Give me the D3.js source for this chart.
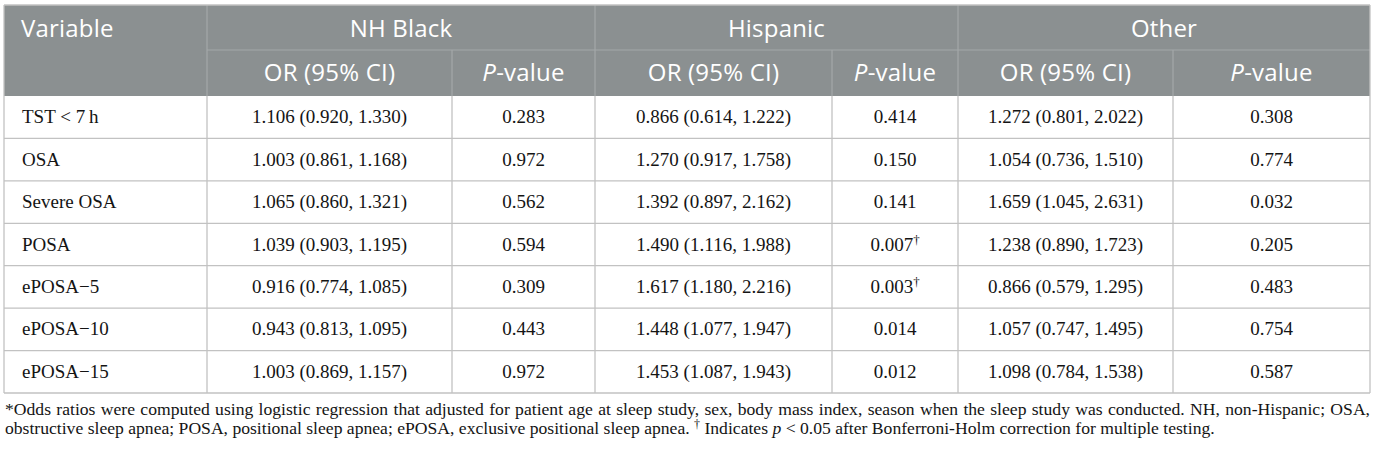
<!DOCTYPE html>
<html>
<head>
<meta charset="utf-8">
<script src="https://cdn.jsdelivr.net/npm/d3@7"></script>
<style>
  body { margin: 0; background: #fff; }
  svg { display: block; }
</style>
</head>
<body>
<div id="chart-area"></div>
<script>
// Data
// ****
const variables = ["TST < 7\u2009h", "OSA", "Severe OSA", "POSA", "ePOSA\u22125", "ePOSA\u221210", "ePOSA\u221215"]
const rowKeys = ["tst", "osa", "severe", "posa", "eposa5", "eposa10", "eposa15"]
const groups = ["NH Black", "Hispanic", "Other"]
const subHeaders = ["OR (95% CI)", "P-value"]
const nhBlackOR = ["1.106 (0.920, 1.330)", "1.003 (0.861, 1.168)", "1.065 (0.860, 1.321)", "1.039 (0.903, 1.195)", "0.916 (0.774, 1.085)", "0.943 (0.813, 1.095)", "1.003 (0.869, 1.157)"]
const nhBlackP = ["0.283", "0.972", "0.562", "0.594", "0.309", "0.443", "0.972"]
const hispanicOR = ["0.866 (0.614, 1.222)", "1.270 (0.917, 1.758)", "1.392 (0.897, 2.162)", "1.490 (1.116, 1.988)", "1.617 (1.180, 2.216)", "1.448 (1.077, 1.947)", "1.453 (1.087, 1.943)"]
const hispanicP = ["0.414", "0.150", "0.141", "0.007\u2020", "0.003\u2020", "0.014", "0.012"]
const otherOR = ["1.272 (0.801, 2.022)", "1.054 (0.736, 1.510)", "1.659 (1.045, 2.631)", "1.238 (0.890, 1.723)", "0.866 (0.579, 1.295)", "1.057 (0.747, 1.495)", "1.098 (0.784, 1.538)"]
const otherP = ["0.308", "0.774", "0.032", "0.205", "0.483", "0.754", "0.587"]
const footnote1 = "*Odds ratios were computed using logistic regression that adjusted for patient age at sleep study, sex, body mass index, season when the sleep study was conducted. NH, non-Hispanic; OSA,"
const footnote2a = "obstructive sleep apnea; POSA, positional sleep apnea; ePOSA, exclusive positional sleep apnea. "
const footnote2b = "Indicates "
const footnote2c = " < 0.05 after Bonferroni-Holm correction for multiple testing."

// Config
// ******
const width = 1376, height = 452
const colEdges = [4, 207, 452, 595, 832, 958, 1173, 1370]
const headTop = 5, headMid = 50, headBottom = 96, tableBottom = 393
const headFill = "#8b9091", headLine = "#a4a8a9", gridLine = "#c2c2c2"
const sans = "'Open Sans', sans-serif", serif = "'Liberation Serif', 'Times New Roman', serif"
const foot2End = 1216

const columns = [nhBlackOR, nhBlackP, hispanicOR, hispanicP, otherOR, otherP]

const svg = d3.select("#chart-area")
  .append("svg")
    .attr("width", width)
    .attr("height", height)

const y = d3.scaleBand().domain(rowKeys).range([headBottom, tableBottom])
const col = d3.scaleOrdinal().domain(d3.range(7)).range(colEdges.slice(0, 7))
const colW = i => colEdges[i + 1] - colEdges[i]

// Header
// ******
svg.append("rect")
  .attr("x", colEdges[0]).attr("y", headTop)
  .attr("width", colEdges[7] - colEdges[0]).attr("height", headBottom - headTop)
  .attr("fill", headFill)

const head = svg.append("g")
  .attr("font-family", sans)
  .attr("font-size", "24px")
  .attr("letter-spacing", "0.2px")
  .attr("fill", "#fff")

head.append("text")
  .attr("x", 21).attr("y", 37)
  .text("Variable")

groups.forEach((gName, gi) => {
  const x0 = colEdges[1 + gi * 2], x1 = colEdges[3 + gi * 2]
  head.append("text")
    .attr("x", (x0 + x1) / 2).attr("y", 37)
    .attr("text-anchor", "middle")
    .text(gName)
  subHeaders.forEach((s, si) => {
    const ci = 1 + gi * 2 + si
    const t = head.append("text")
      .attr("x", col(ci) + colW(ci) / 2).attr("y", 81)
      .attr("text-anchor", "middle")
    if (s.startsWith("P-")) {
      t.append("tspan").attr("font-style", "italic").text("P")
      t.append("tspan").text(s.slice(1))
    } else t.text(s)
  })
})

// header lines
const hl = svg.append("g").attr("stroke", headLine).attr("stroke-width", 1.2)
hl.append("line").attr("x1", colEdges[1]).attr("x2", colEdges[7]).attr("y1", headMid).attr("y2", headMid)
;[1, 3, 5].forEach(i => hl.append("line").attr("x1", colEdges[i]).attr("x2", colEdges[i]).attr("y1", headTop).attr("y2", headBottom))
;[2, 4, 6].forEach(i => hl.append("line").attr("x1", colEdges[i]).attr("x2", colEdges[i]).attr("y1", headMid).attr("y2", headBottom))

// Body
// ****
const body = svg.append("g")
  .attr("font-family", serif)
  .attr("font-size", "19px")
  .attr("fill", "#141414")

rowKeys.forEach((k, ri) => {
  const cy = y(k) + y.bandwidth() / 2 + 6
  body.append("text").attr("x", 22).attr("y", cy).text(variables[ri])
  columns.forEach((c, ci) => {
    const v = c[ri]
    const t = body.append("text")
      .attr("x", col(ci + 1) + colW(ci + 1) / 2).attr("y", cy)
      .attr("text-anchor", "middle")
    if (v.endsWith("\u2020")) {
      t.append("tspan").text(v.slice(0, -1))
      t.append("tspan").attr("font-size", "13px").attr("dy", -7).text("\u2020")
    } else t.text(v)
  })
})

// grid lines
const gl = svg.append("g").attr("stroke", gridLine).attr("stroke-width", 1.3).attr("fill", "none")
rowKeys.slice(1).forEach(k => gl.append("line").attr("x1", colEdges[0]).attr("x2", colEdges[7]).attr("y1", y(k)).attr("y2", y(k)))
gl.append("line").attr("x1", colEdges[0]).attr("x2", colEdges[7]).attr("y1", tableBottom).attr("y2", tableBottom)
colEdges.forEach(x => gl.append("line").attr("x1", x).attr("x2", x).attr("y1", headBottom).attr("y2", tableBottom))
gl.append("line").attr("x1", colEdges[0]).attr("x2", colEdges[0]).attr("y1", headTop).attr("y2", headBottom)
gl.append("line").attr("x1", colEdges[7]).attr("x2", colEdges[7]).attr("y1", headTop).attr("y2", headBottom)
gl.append("line").attr("x1", colEdges[0]).attr("x2", colEdges[7]).attr("y1", headTop).attr("y2", headTop)

// Footnote
// ********
const foot = svg.append("g")
  .attr("font-family", serif)
  .attr("font-size", "16px")
  .attr("fill", "#141414")

// second line first: its natural width sets the footnote size
const f2 = foot.append("text").attr("x", 5).attr("y", 434)
f2.append("tspan").text(footnote2a)
f2.append("tspan").attr("class", "sup").attr("dy", -6).text("\u2020")
f2.append("tspan").attr("dy", 6).text(" " + footnote2b)
f2.append("tspan").attr("font-style", "italic").text("p")
f2.append("tspan").text(footnote2c)
f2.select(".sup").attr("font-size", "11px")

const fs = 16 * (foot2End - 5) / f2.node().getComputedTextLength()
foot.attr("font-size", fs + "px")
f2.select(".sup").attr("font-size", (fs * 0.68) + "px")

const f1 = foot.append("text").attr("x", 5).attr("y", 415).text(footnote1)
const target = colEdges[7] - 5
const spaces = footnote1.split(" ").length - 1
const len = f1.node().getComputedTextLength()
f1.attr("word-spacing", (target - len) / spaces)
</script>
</body>
</html>
